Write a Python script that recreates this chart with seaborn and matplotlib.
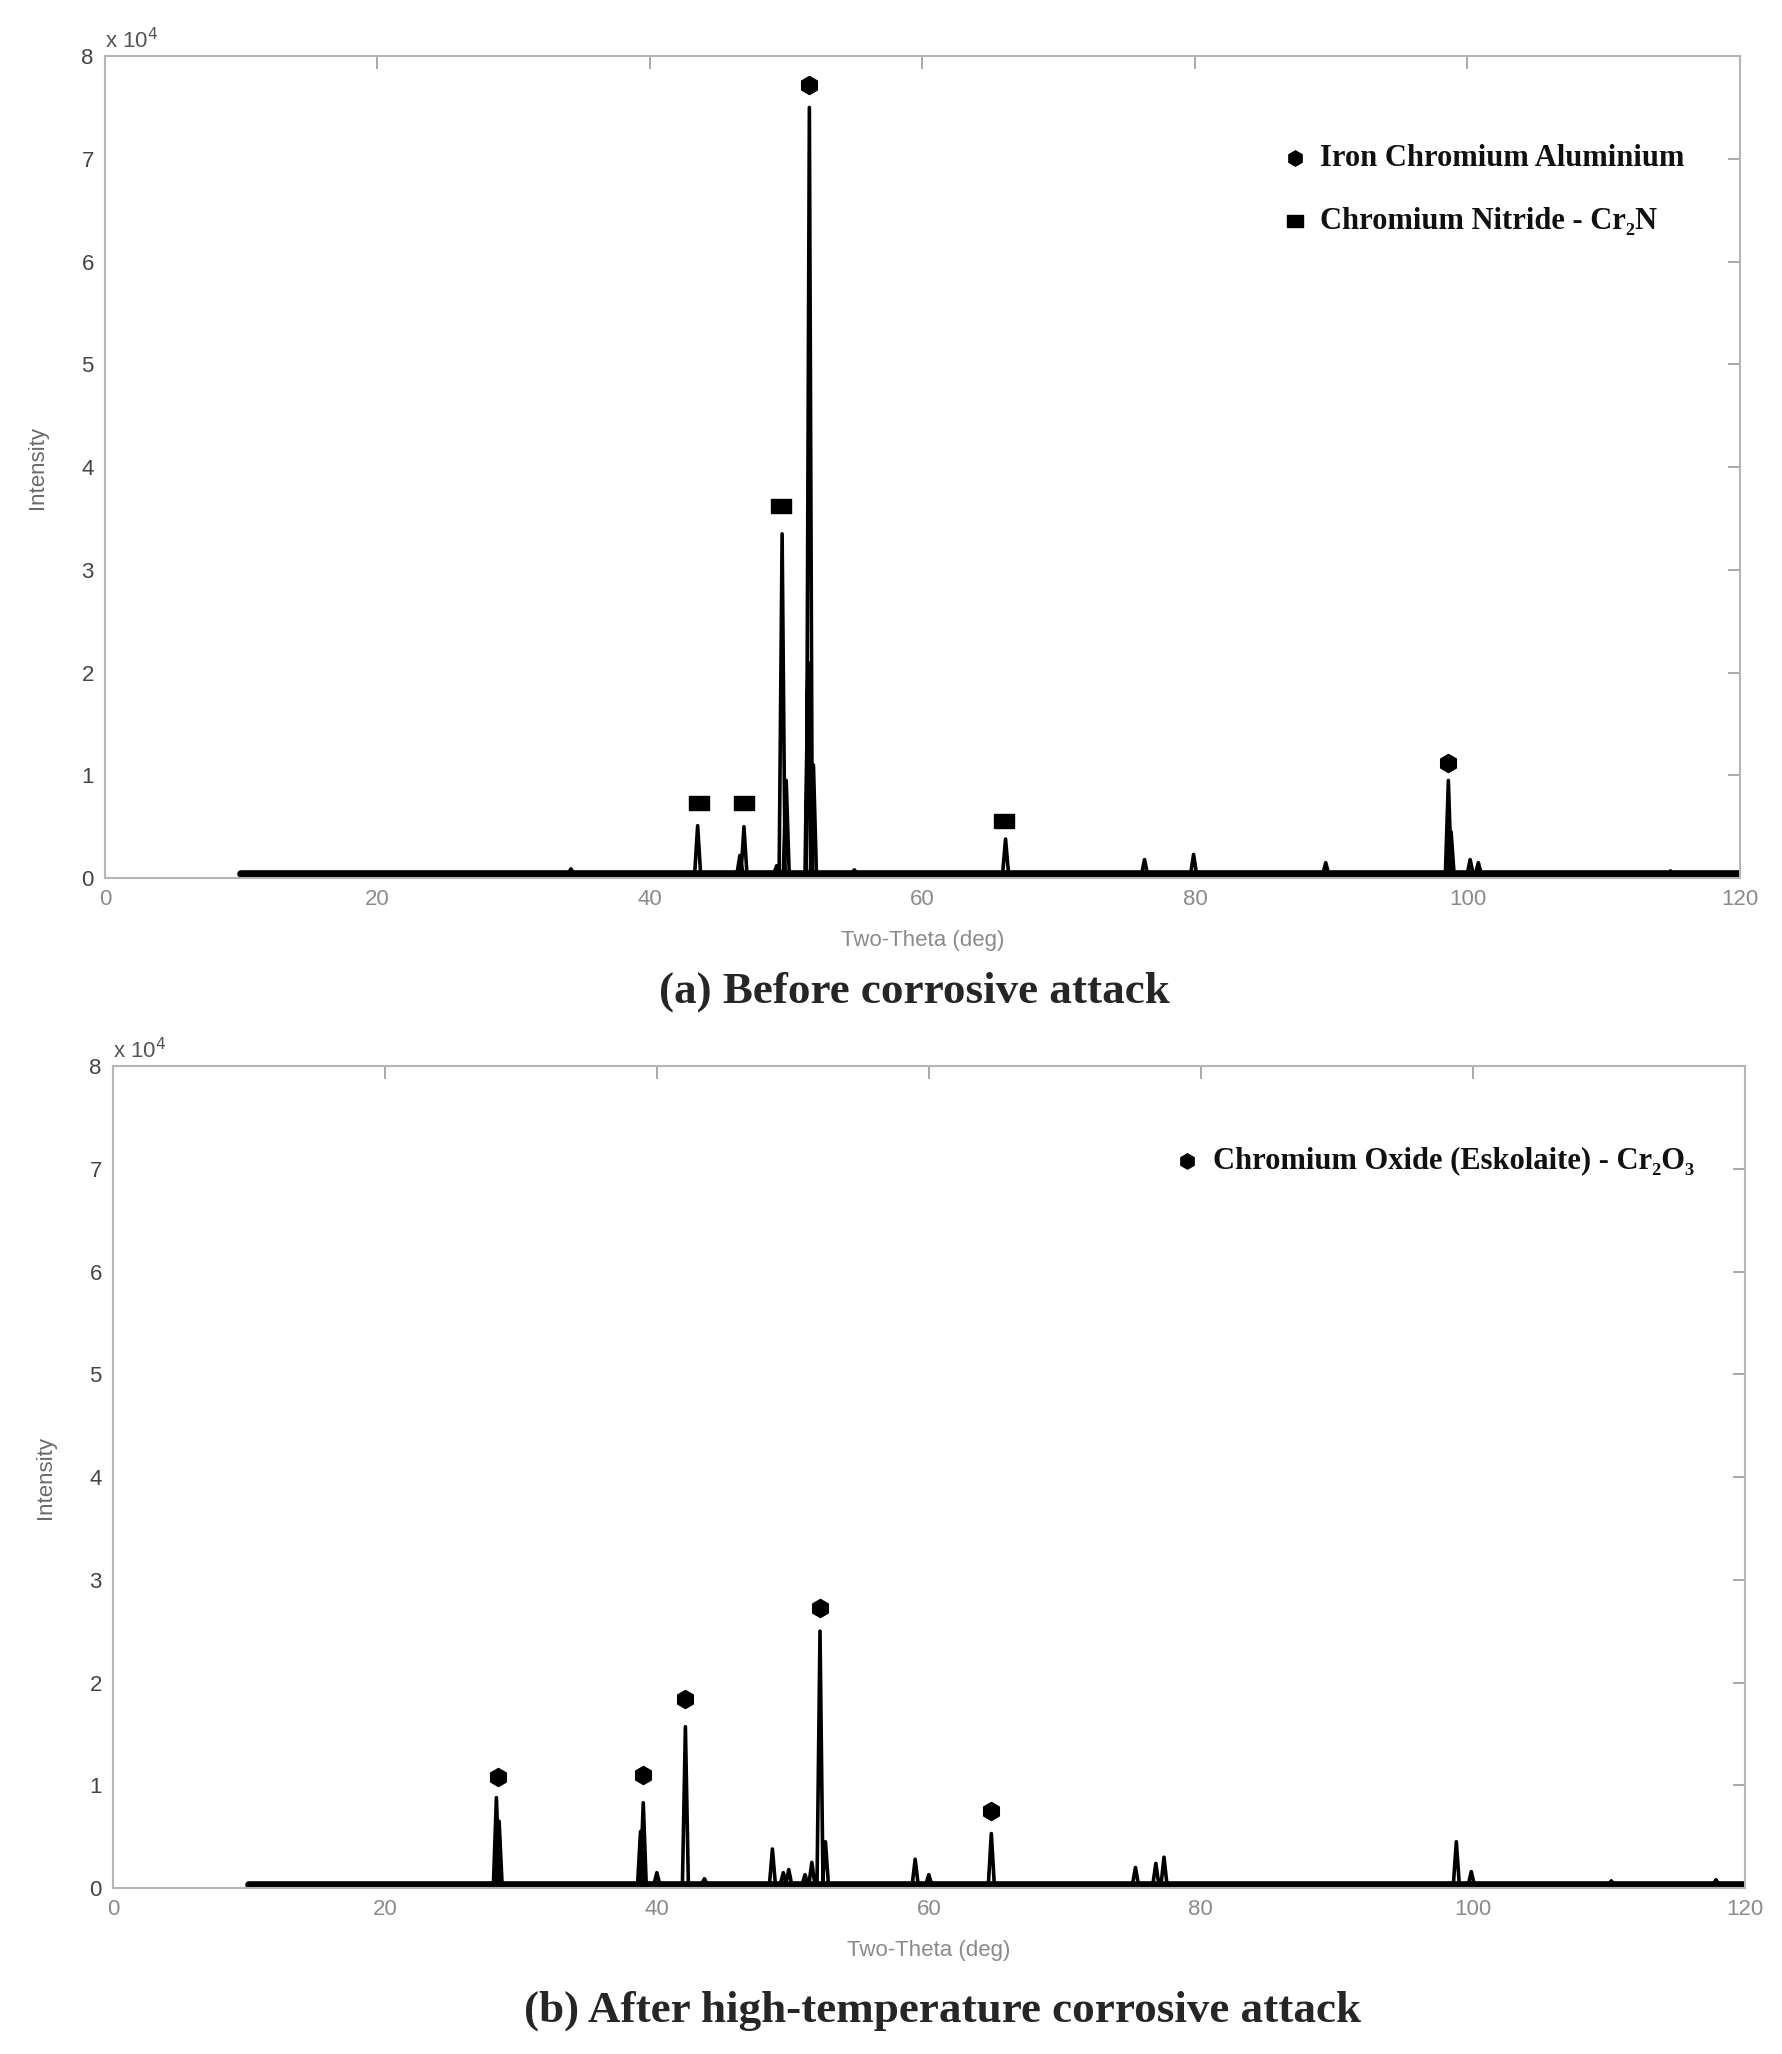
import numpy as np
import pandas as pd
import matplotlib
matplotlib.use("Agg")
import matplotlib.pyplot as plt
import matplotlib.ticker as mticker
import seaborn as sns

# ---- data (two-theta deg, intensity counts) ----
SCAN_START, SCAN_END = 10.0, 120.0

# panel (a): before corrosive attack
A_BASE = 380
A_PEAK_POS = [34.2, 43.5, 46.6, 46.9, 49.3, 49.7, 50.0, 51.6, 51.7, 52.0,
              55.0, 66.1, 76.3, 79.9, 89.6, 98.6, 98.8, 100.2, 100.8, 114.9]
A_PEAK_INT = [900, 5100, 2200, 5000, 1200, 33500, 9500, 21000, 75000, 11000,
              800, 3800, 1800, 2300, 1500, 9500, 4500, 1800, 1500, 700]
A_FECRAL = [(51.7, 77200), (98.6, 11200)]
A_CR2N = [(43.6, 7300), (46.9, 7300), (49.6, 36200), (66.0, 5600)]

# panel (b): after high-temperature corrosive attack
B_BASE = 330
B_PEAK_POS = [28.2, 28.4, 38.8, 39.0, 40.0, 42.1, 43.5, 48.5, 49.3, 49.7,
              50.9, 51.4, 52.0, 52.4, 59.0, 60.0, 64.6, 75.2, 76.7, 77.3,
              98.8, 99.9, 110.2, 117.9]
B_PEAK_INT = [8800, 6500, 5500, 8300, 1500, 15700, 900, 3800, 1500, 1800,
              1300, 2500, 25000, 4500, 2800, 1300, 5300, 2000, 2400, 3000,
              4500, 1600, 700, 800]
B_CR2O3 = [(28.3, 10800), (39.0, 11000), (42.1, 18400), (52.0, 27300), (64.6, 7500)]

PEAK_HALF_WIDTH = 0.22


def profile(base, pos, inten):
    xs = [SCAN_START]
    ys = [base]
    for c, h in sorted(zip(pos, inten)):
        xs += [c - PEAK_HALF_WIDTH, c, c + PEAK_HALF_WIDTH]
        ys += [base, h, base]
    xs.append(SCAN_END)
    ys.append(base)
    return pd.DataFrame({"theta": xs, "intensity": ys})


sns.set_style("white")
plt.rcParams["font.family"] = ["Liberation Sans", "DejaVu Sans"]

fig = plt.figure(figsize=(17.82, 20.54), dpi=100)
ax_a = fig.add_axes([0.0589, 0.5725, 0.9175, 0.4002])
ax_b = fig.add_axes([0.0634, 0.0808, 0.9156, 0.4002])

SERIF = ["Liberation Serif", "DejaVu Serif"]
GREY = "#9a9a9a"


def style_axes(ax):
    ax.set_xlim(0, 120)
    ax.set_ylim(0, 80000)
    ax.set_xticks(range(0, 121, 20))
    ax.set_yticks(range(0, 80001, 10000))
    ax.yaxis.set_major_formatter(mticker.FuncFormatter(lambda v, p: f"{v / 1e4:g}"))
    ax.tick_params(direction="in", length=9, width=1.2, color=GREY,
                   top=True, right=True, labelsize=16, pad=8)
    for lab in ax.get_xticklabels():
        lab.set_color("#8a8a8a")
    for lab in ax.get_yticklabels():
        lab.set_color("#444444")
    for s in ax.spines.values():
        s.set_color("#b5b5b5")
        s.set_linewidth(1.5)
    ax.set_xlabel("Two-Theta (deg)", fontsize=16, color="#8a8a8a", labelpad=14)
    ax.set_ylabel("Intensity", fontsize=16, color="#6a6a6a", labelpad=24)
    ax.text(0.0, 1.004, "x 10$^4$", transform=ax.transAxes, fontsize=16,
            color="#555555", ha="left", va="bottom")


for ax, base, pos, inten in [(ax_a, A_BASE, A_PEAK_POS, A_PEAK_INT),
                             (ax_b, B_BASE, B_PEAK_POS, B_PEAK_INT)]:
    df = profile(base, pos, inten)
    # noisy background band of the scan
    sns.lineplot(x=[SCAN_START, SCAN_END], y=[base, base], ax=ax, color="black",
                 lw=5.5, estimator=None, sort=False)
    sns.lineplot(data=df, x="theta", y="intensity", ax=ax, color="black",
                 lw=2.6, estimator=None, sort=False)
    style_axes(ax)

rect = [(-1.5, -1), (1.5, -1), (1.5, 1), (-1.5, 1), (-1.5, -1)]

# phase markers, panel (a)
fx, fy = zip(*A_FECRAL)
ax_a.scatter(fx, fy, marker="h", s=170, color="black", zorder=5)
nx, ny = zip(*A_CR2N)
ax_a.scatter(nx, ny, marker=rect, s=220, color="black", zorder=5)

# phase markers, panel (b)
ox, oy = zip(*B_CR2O3)
ax_b.scatter(ox, oy, marker="h", s=170, color="black", zorder=5)

# legends drawn as in the original (marker + bold serif text)
ax_a.plot([0.7276], [0.8754], marker="h", ms=11, color="black",
          transform=ax_a.transAxes, clip_on=False)
ax_a.text(0.743, 0.8754, "Iron Chromium Aluminium", transform=ax_a.transAxes,
          fontsize=22, fontweight="bold", family=SERIF, color="#111111", va="center")
ax_a.plot([0.7276], [0.7988], marker=rect, ms=12, color="black",
          transform=ax_a.transAxes, clip_on=False)
ax_a.text(0.743, 0.7988, "Chromium Nitride - Cr₂N", transform=ax_a.transAxes,
          fontsize=22, fontweight="bold", family=SERIF, color="#111111", va="center")

ax_b.plot([0.6584], [0.8842], marker="h", ms=11, color="black",
          transform=ax_b.transAxes, clip_on=False)
ax_b.text(0.674, 0.8842, "Chromium Oxide (Eskolaite) - Cr₂O₃", transform=ax_b.transAxes,
          fontsize=22, fontweight="bold", family=SERIF, color="#111111", va="center")

fig.text(0.513, 0.517, "(a) Before corrosive attack", ha="center", va="center",
         fontsize=32.5, fontweight="bold", family=SERIF)
fig.text(0.529, 0.021, "(b) After high-temperature corrosive attack", ha="center",
         va="center", fontsize=32.5, fontweight="bold", family=SERIF)

fig.savefig("out.png", dpi=100, facecolor="white")
